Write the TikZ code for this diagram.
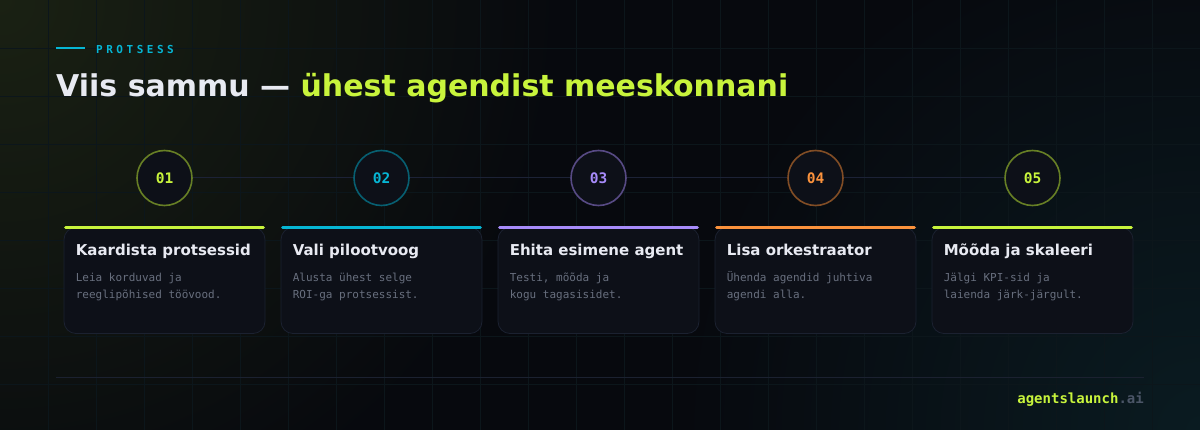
\documentclass[tikz,border=0pt]{standalone}
\usepackage{fontspec}
\setmainfont{DejaVu Sans}
\setmonofont{DejaVu Sans Mono}
\usetikzlibrary{positioning}
\definecolor{bgdark}{HTML}{07090E}
\definecolor{glowtl}{HTML}{1A2113}
\definecolor{glowbr}{HTML}{0A1B21}
\definecolor{gridcol}{HTML}{0C161B}
\definecolor{lime}{HTML}{C8F43C}
\definecolor{cyanacc}{HTML}{06B6D4}
\definecolor{violet}{HTML}{A78BFA}
\definecolor{orangeacc}{HTML}{FB923C}
\definecolor{titlewhite}{HTML}{E8EAF2}
\definecolor{bodygray}{HTML}{686F7E}
\definecolor{cardfill}{HTML}{0D1018}
\definecolor{cardline}{HTML}{1B2130}
\definecolor{tline}{HTML}{1C2236}
\definecolor{footgray}{HTML}{4B5567}
\tikzset{
  stepnum/.style={circle,draw,line width=1.6pt,fill=cardfill,minimum size=55pt,inner sep=0pt,
    font=\ttfamily\bfseries\fontsize{14.5}{16}\selectfont},
  card/.style={draw=cardline,line width=0.8pt,fill=cardfill,rounded corners=12pt,
    minimum width=201pt,minimum height=106pt,inner sep=0pt},
  accent/.style={line width=3.2pt,line cap=round},
  cardtitle/.style={anchor=base west,inner sep=0pt,text=titlewhite,
    font=\bfseries\fontsize{15}{18}\selectfont},
  cardbody/.style={anchor=north west,inner sep=0pt,text=bodygray,align=left,
    font=\ttfamily\fontsize{11}{17}\selectfont},
  timeline/.style={draw=tline,line width=1pt}
}

\begin{document}
\begin{tikzpicture}[x=1pt,y=-1pt,node distance=217pt]
\useasboundingbox (0,0) rectangle (1200,430);
% background
\fill[bgdark] (0,0) rectangle (1200,430);
\begin{scope}
\clip (0,0) rectangle (1200,430);
\shade[inner color=glowtl,outer color=bgdark] (0,0) circle (560);
\shade[inner color=glowbr,outer color=bgdark] (1200,430) circle (520);
\foreach \gx in {48,96,...,1152} \draw[gridcol,line width=0.8pt] (\gx,0) -- (\gx,430);
\foreach \gy in {48,96,...,384} \draw[gridcol,line width=0.8pt] (0,\gy) -- (1200,\gy);
\end{scope}

% heading
\draw[cyanacc,line width=1.6pt] (56,48) -- (85,48);
\node[anchor=west,inner sep=0pt,text=cyanacc,font=\ttfamily\bfseries\fontsize{11}{12}\selectfont\addfontfeature{LetterSpace=32}] (kicker) at (96,49) {PROTSESS};
\node[anchor=base west,inner sep=0pt,font=\bfseries\fontsize{30}{36}\selectfont] (title) at (56,97)
  {\textcolor{titlewhite}{Viis sammu —} \textcolor{lime}{ühest agendist meeskonnani}};

% steps
\node[stepnum,draw=lime!50!bgdark,text=lime]           (s1) at (164.5,178) {01};
\node[stepnum,draw=cyanacc!50!bgdark,text=cyanacc]     (s2) [right of=s1] {02};
\node[stepnum,draw=violet!50!bgdark,text=violet]       (s3) [right of=s2] {03};
\node[stepnum,draw=orangeacc!50!bgdark,text=orangeacc] (s4) [right of=s3] {04};
\node[stepnum,draw=lime!50!bgdark,text=lime]           (s5) [right of=s4] {05};
\path[timeline] (s1) -- (s2) (s2) -- (s3) (s3) -- (s4) (s4) -- (s5);

% cards
\node[card] (c1) at (164.5,280.5) {};
\node[card] (c2) [right of=c1] {};
\node[card] (c3) [right of=c2] {};
\node[card] (c4) [right of=c3] {};
\node[card] (c5) [right of=c4] {};
\draw[accent,lime]      ([xshift=2pt,yshift=-0.5pt]c1.north west) -- ([xshift=-2pt,yshift=-0.5pt]c1.north east);
\draw[accent,cyanacc]   ([xshift=2pt,yshift=-0.5pt]c2.north west) -- ([xshift=-2pt,yshift=-0.5pt]c2.north east);
\draw[accent,violet]    ([xshift=2pt,yshift=-0.5pt]c3.north west) -- ([xshift=-2pt,yshift=-0.5pt]c3.north east);
\draw[accent,orangeacc] ([xshift=2pt,yshift=-0.5pt]c4.north west) -- ([xshift=-2pt,yshift=-0.5pt]c4.north east);
\draw[accent,lime]      ([xshift=2pt,yshift=-0.5pt]c5.north west) -- ([xshift=-2pt,yshift=-0.5pt]c5.north east);

\node[cardtitle] (t1) at ([xshift=12pt,yshift=-28.5pt]c1.north west) {Kaardista protsessid};
\node[cardtitle] (t2) at ([xshift=12pt,yshift=-28.5pt]c2.north west) {Vali pilootvoog};
\node[cardtitle] (t3) at ([xshift=12pt,yshift=-28.5pt]c3.north west) {Ehita esimene agent};
\node[cardtitle] (t4) at ([xshift=12pt,yshift=-28.5pt]c4.north west) {Lisa orkestraator};
\node[cardtitle] (t5) at ([xshift=12pt,yshift=-28.5pt]c5.north west) {Mõõda ja skaleeri};

% \strut keeps the first baseline the same for every card
\node[cardbody] (b1) at ([yshift=-13.5pt]t1.base west) {\strut Leia korduvad ja\\reeglipõhised töövood.};
\node[cardbody] (b2) at ([yshift=-13.5pt]t2.base west) {\strut Alusta ühest selge\\ROI-ga protsessist.};
\node[cardbody] (b3) at ([yshift=-13.5pt]t3.base west) {\strut Testi, mõõda ja\\kogu tagasisidet.};
\node[cardbody] (b4) at ([yshift=-13.5pt]t4.base west) {\strut Ühenda agendid juhtiva\\agendi alla.};
\node[cardbody] (b5) at ([yshift=-13.5pt]t5.base west) {\strut Jälgi KPI-sid ja\\laienda järk-järgult.};

% footer
\coordinate (fl) at (56,378);
\coordinate (fr) at (1144,378);
\draw[cardline,line width=1pt] (fl) -- (fr);
\node[anchor=base east,inner sep=0pt,font=\ttfamily\bfseries\fontsize{14}{16}\selectfont] (brand) at (1144,403)
  {\textcolor{lime}{agentslaunch}\textcolor{footgray}{.ai}};
\end{tikzpicture}
\end{document}
